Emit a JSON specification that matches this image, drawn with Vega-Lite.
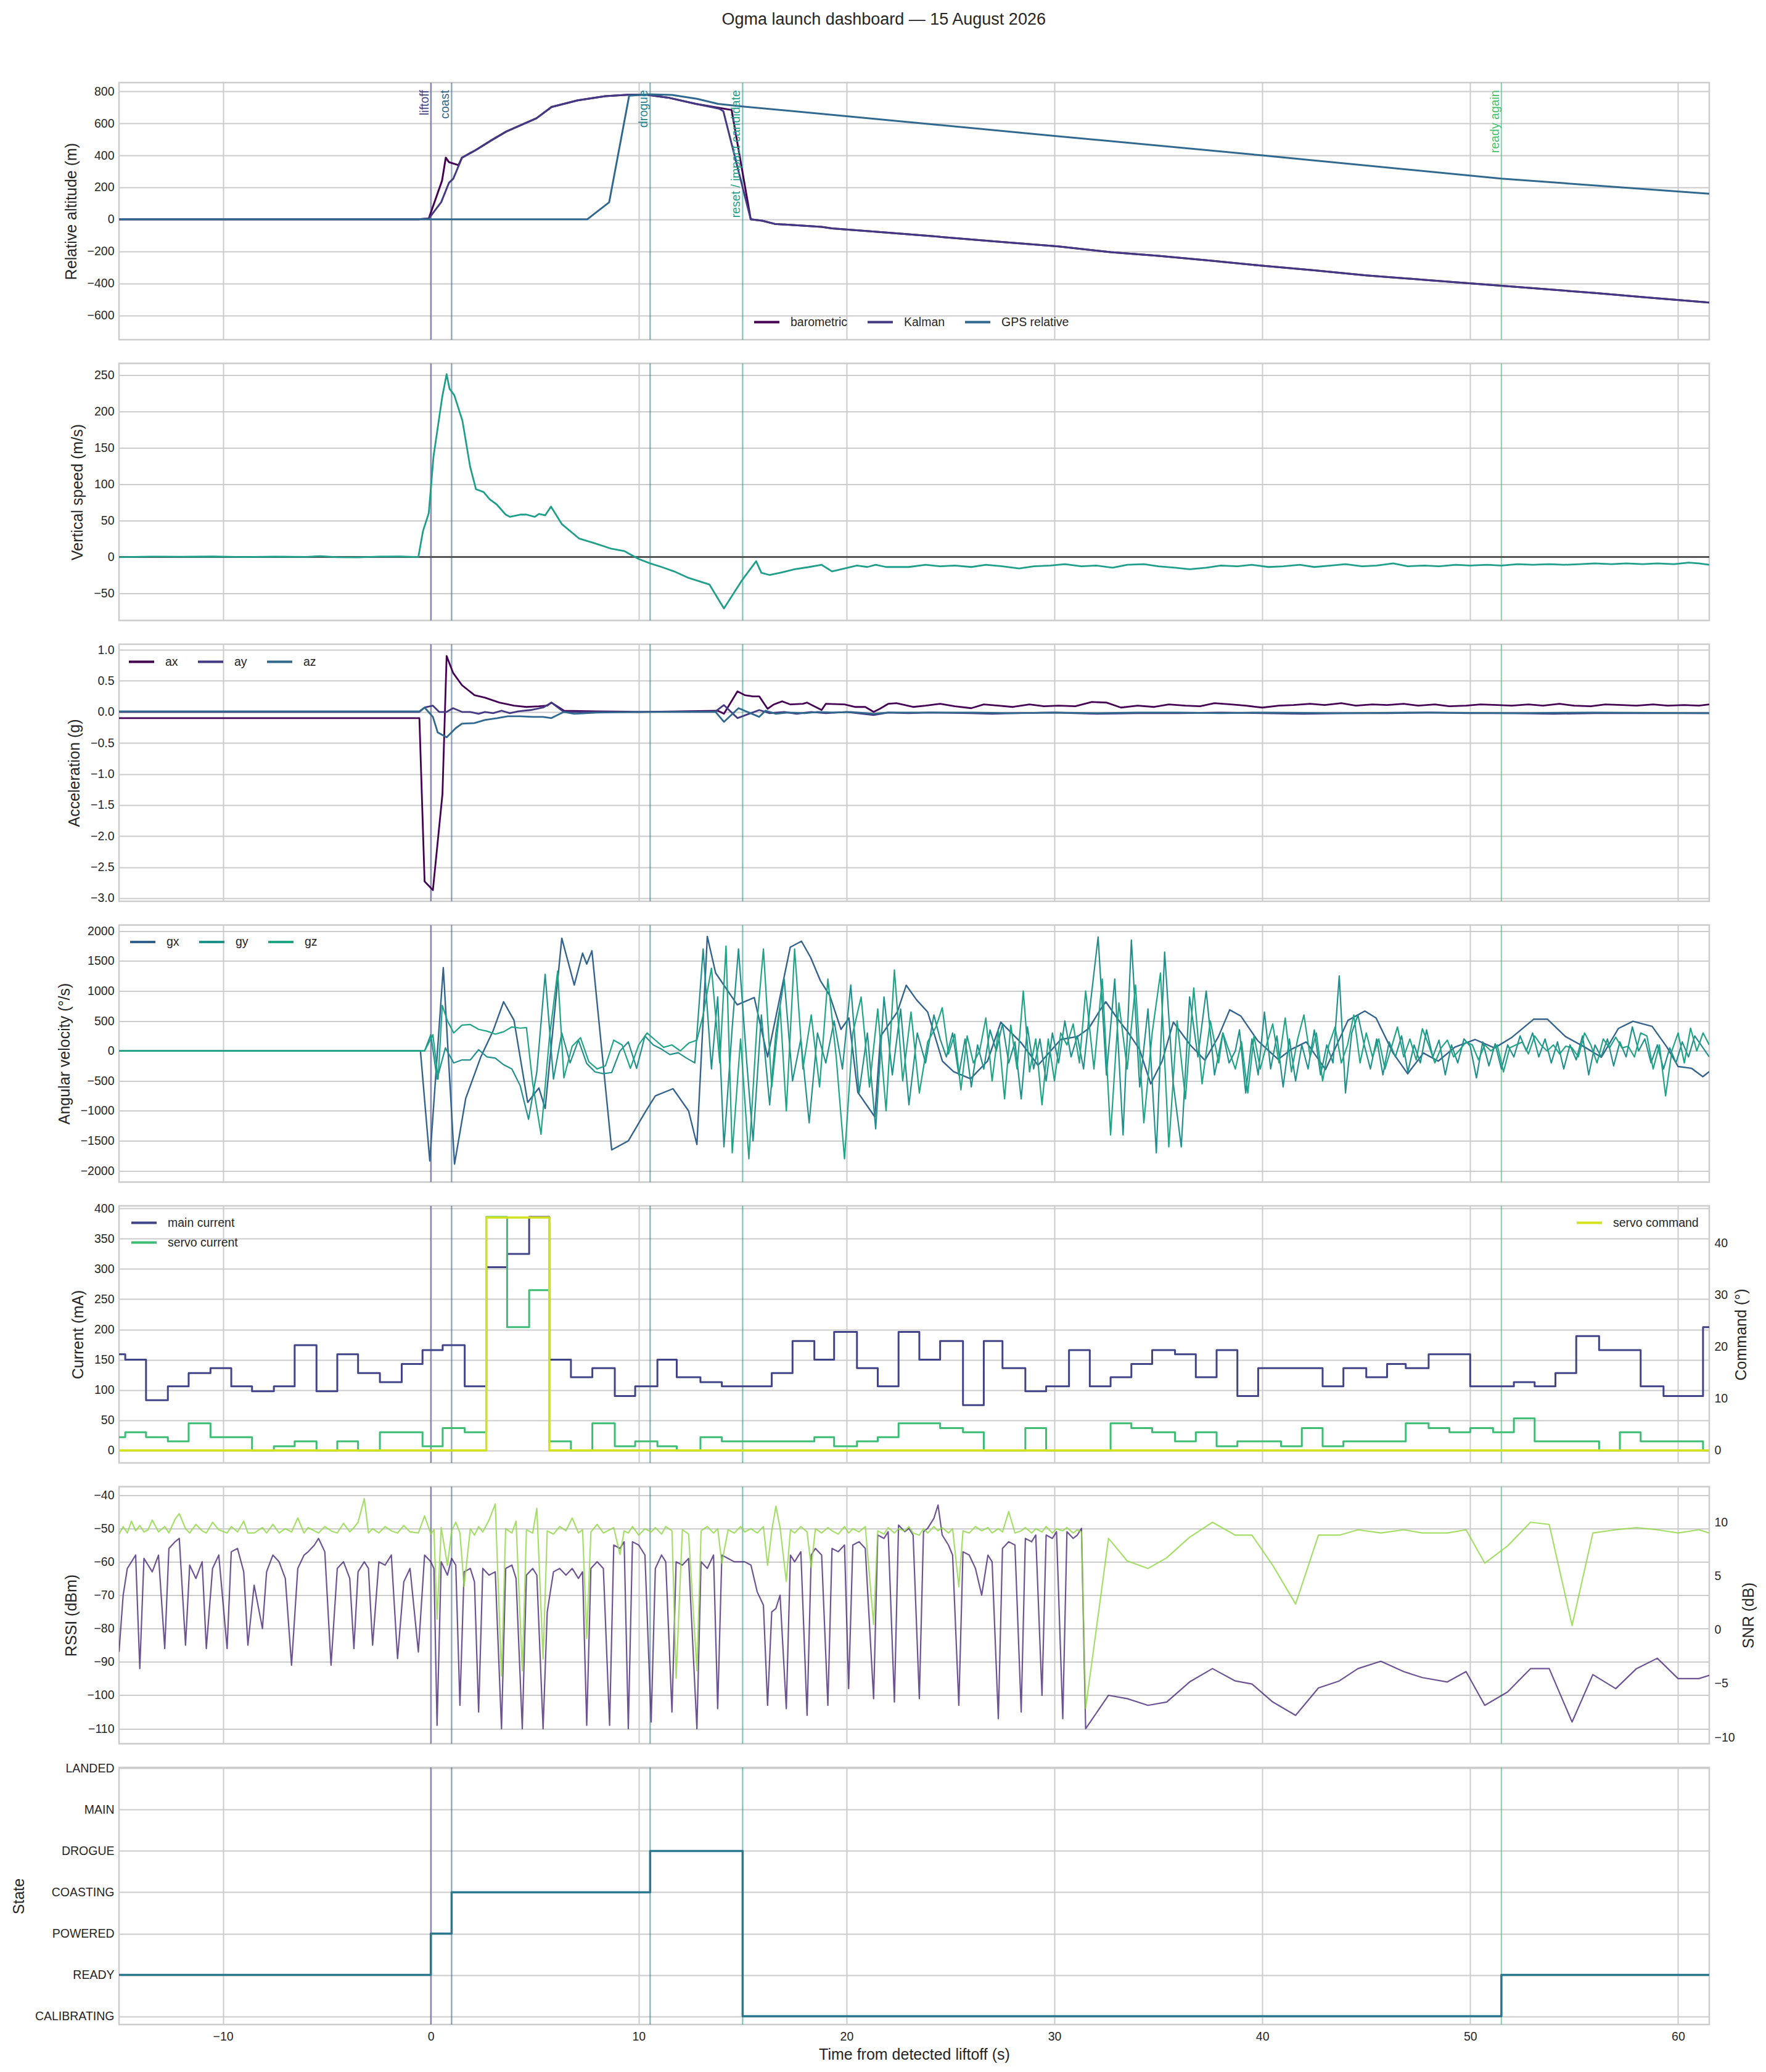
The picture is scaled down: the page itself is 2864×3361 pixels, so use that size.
{
"$schema":"https://vega.github.io/schema/vega-lite/v6.json",
"padding":{"left":17,"top":17,"right":5,"bottom":5},
"title":{"text":"Ogma launch dashboard — 15 August 2026","fontSize":27,"fontWeight":"normal","color":"#262626","anchor":"middle","offset":86,"font":"Liberation Sans"},
"spacing":38.5,
"bounds":"flush",
"resolve":{"scale":{"color":"independent","stroke":"independent","fill":"independent"}},
"datasets":{
"events":[{"t":0,"e":"liftoff"},{"t":1.0,"e":"coast"},{"t":10.55,"e":"drogue"},{"t":15.0,"e":"reset / impact candidate"},{"t":51.5,"e":"ready again"}],
"baro":[{"t":-15,"v":0},{"t":-10,"v":0.5},{"t":-5,"v":0},{"t":-0.6,"v":0},{"t":-0.1,"v":5},{"t":0.54,"v":242},{"t":0.72,"v":386},{"t":0.87,"v":358},{"t":1.33,"v":339},{"t":1.5,"v":386},{"t":2.17,"v":434},{"t":2.96,"v":498},{"t":3.63,"v":549},{"t":4.42,"v":594},{"t":5.08,"v":632},{"t":5.81,"v":703},{"t":7.07,"v":744},{"t":8.39,"v":770},{"t":9.58,"v":780},{"t":10.4,"v":779},{"t":11.42,"v":761},{"t":12.75,"v":722},{"t":13.87,"v":697},{"t":14.47,"v":684},{"t":15.39,"v":0},{"t":15.94,"v":-8},{"t":16.54,"v":-28},{"t":18.8,"v":-47},{"t":19.3,"v":-56},{"t":21.55,"v":-79},{"t":24.1,"v":-105},{"t":27.1,"v":-137},{"t":30.2,"v":-169},{"t":32.7,"v":-205},{"t":35,"v":-228},{"t":37.5,"v":-258},{"t":40,"v":-290},{"t":42.5,"v":-318},{"t":45,"v":-350},{"t":48,"v":-380},{"t":51.5,"v":-415},{"t":54,"v":-440},{"t":56,"v":-460},{"t":58.5,"v":-488},{"t":61.5,"v":-520}],
"kal":[{"t":-15,"v":0},{"t":-10,"v":0.5},{"t":-5,"v":0},{"t":-0.6,"v":0},{"t":-0.1,"v":5},{"t":0.5,"v":108},{"t":0.87,"v":228},{"t":1.08,"v":254},{"t":1.5,"v":386},{"t":2.17,"v":434},{"t":2.96,"v":498},{"t":3.63,"v":549},{"t":4.42,"v":594},{"t":5.08,"v":632},{"t":5.81,"v":703},{"t":7.07,"v":744},{"t":8.39,"v":770},{"t":9.58,"v":780},{"t":10.4,"v":779},{"t":11.42,"v":761},{"t":12.75,"v":722},{"t":13.87,"v":692},{"t":14.07,"v":677},{"t":15.39,"v":0},{"t":15.94,"v":-8},{"t":16.54,"v":-28},{"t":18.8,"v":-47},{"t":19.3,"v":-56},{"t":21.55,"v":-79},{"t":24.1,"v":-105},{"t":27.1,"v":-137},{"t":30.2,"v":-169},{"t":32.7,"v":-205},{"t":35,"v":-228},{"t":37.5,"v":-258},{"t":40,"v":-290},{"t":42.5,"v":-318},{"t":45,"v":-350},{"t":48,"v":-380},{"t":51.5,"v":-415},{"t":54,"v":-440},{"t":56,"v":-460},{"t":58.5,"v":-488},{"t":61.5,"v":-520}],
"gps":[{"t":-15,"v":0},{"t":-5,"v":0},{"t":0,"v":0},{"t":7.52,"v":0},{"t":8.58,"v":107},{"t":9.54,"v":773},{"t":10.5,"v":782},{"t":11.6,"v":778},{"t":12.8,"v":754},{"t":13.82,"v":722},{"t":15,"v":706},{"t":20,"v":645},{"t":30,"v":522},{"t":40,"v":400},{"t":51.5,"v":255},{"t":61.5,"v":160}],
"vs":[{"t":-15,"v":-0.5},{"t":-13.5,"v":0.3},{"t":-12,"v":0.1},{"t":-10.5,"v":0.4},{"t":-9,"v":-0.3},{"t":-7.5,"v":0.2},{"t":-6,"v":-0.2},{"t":-5.3,"v":1.0},{"t":-4.5,"v":-0.5},{"t":-3.5,"v":-0.8},{"t":-2.5,"v":0.3},{"t":-1.5,"v":0.5},{"t":-0.6,"v":-0.3},{"t":-0.38,"v":35},{"t":-0.1,"v":60},{"t":0.13,"v":138},{"t":0.55,"v":220},{"t":0.76,"v":251},{"t":0.9,"v":231},{"t":1.13,"v":222},{"t":1.52,"v":187},{"t":1.89,"v":124},{"t":2.17,"v":93},{"t":2.54,"v":89},{"t":2.83,"v":79},{"t":3.17,"v":72},{"t":3.6,"v":58},{"t":3.8,"v":55},{"t":4.3,"v":58},{"t":4.6,"v":58},{"t":5.0,"v":55},{"t":5.2,"v":59},{"t":5.5,"v":57},{"t":5.78,"v":69},{"t":6.3,"v":45},{"t":7.14,"v":25},{"t":7.85,"v":19},{"t":8.7,"v":11},{"t":9.3,"v":8},{"t":10.0,"v":-3},{"t":10.55,"v":-9},{"t":11.1,"v":-14},{"t":11.7,"v":-20},{"t":12.4,"v":-29},{"t":13.4,"v":-38},{"t":14.1,"v":-71},{"t":14.95,"v":-33},{"t":15.65,"v":-6},{"t":15.9,"v":-22},{"t":16.3,"v":-25},{"t":16.8,"v":-22},{"t":17.5,"v":-17},{"t":18.2,"v":-14},{"t":18.8,"v":-11},{"t":19.3,"v":-20},{"t":19.9,"v":-16},{"t":20.5,"v":-12},{"t":21.0,"v":-14},{"t":21.4,"v":-11},{"t":21.9,"v":-14},{"t":23.0,"v":-14},{"t":23.8,"v":-11},{"t":24.5,"v":-13},{"t":25.2,"v":-12},{"t":26,"v":-14},{"t":26.7,"v":-11},{"t":27.5,"v":-13},{"t":28.3,"v":-16},{"t":29,"v":-13},{"t":29.8,"v":-12},{"t":30.5,"v":-10},{"t":31.3,"v":-13},{"t":32,"v":-12},{"t":32.8,"v":-15},{"t":33.5,"v":-11},{"t":34.3,"v":-10},{"t":35,"v":-13},{"t":35.8,"v":-15},{"t":36.5,"v":-17},{"t":37.3,"v":-15},{"t":38,"v":-12},{"t":38.8,"v":-13},{"t":39.5,"v":-11},{"t":40.3,"v":-14},{"t":41,"v":-13},{"t":41.8,"v":-11},{"t":42.5,"v":-14},{"t":43.3,"v":-12},{"t":44,"v":-10},{"t":44.8,"v":-13},{"t":45.5,"v":-12},{"t":46.3,"v":-9},{"t":47,"v":-13},{"t":47.8,"v":-12},{"t":48.5,"v":-13},{"t":49.3,"v":-11},{"t":50,"v":-12},{"t":50.8,"v":-11},{"t":51.5,"v":-12},{"t":52.3,"v":-10},{"t":53,"v":-11},{"t":53.8,"v":-10},{"t":54.5,"v":-11},{"t":55.3,"v":-10},{"t":56,"v":-9},{"t":56.8,"v":-10},{"t":57.5,"v":-9},{"t":58.3,"v":-10},{"t":59,"v":-9},{"t":59.8,"v":-10},{"t":60.5,"v":-8},{"t":61,"v":-9},{"t":61.5,"v":-11}],
"ax":[{"t":-15,"v":-0.1},{"t":-0.55,"v":-0.1},{"t":-0.3,"v":-2.73},{"t":0.1,"v":-2.87},{"t":0.56,"v":-1.32},{"t":0.76,"v":0.9},{"t":1.07,"v":0.63},{"t":1.5,"v":0.43},{"t":2.1,"v":0.27},{"t":2.6,"v":0.23},{"t":3.3,"v":0.15},{"t":4.0,"v":0.1},{"t":4.6,"v":0.08},{"t":5.2,"v":0.09},{"t":5.6,"v":0.1},{"t":5.8,"v":0.15},{"t":6.4,"v":0.02},{"t":8,"v":0.01},{"t":10,"v":0.0},{"t":12,"v":0.01},{"t":13.8,"v":0.02},{"t":14.1,"v":-0.03},{"t":14.75,"v":0.33},{"t":15.1,"v":0.27},{"t":15.5,"v":0.25},{"t":15.8,"v":0.25},{"t":16.2,"v":0.05},{"t":16.5,"v":0.12},{"t":16.9,"v":0.17},{"t":17.3,"v":0.12},{"t":17.9,"v":0.13},{"t":18.1,"v":0.15},{"t":18.8,"v":0.03},{"t":19.0,"v":0.13},{"t":19.9,"v":0.12},{"t":20.4,"v":0.08},{"t":20.9,"v":0.08},{"t":21.3,"v":0.0},{"t":21.6,"v":0.05},{"t":22.0,"v":0.13},{"t":22.4,"v":0.14},{"t":23.2,"v":0.08},{"t":23.8,"v":0.1},{"t":24.5,"v":0.13},{"t":25.2,"v":0.09},{"t":26,"v":0.06},{"t":26.6,"v":0.12},{"t":27.3,"v":0.1},{"t":28,"v":0.08},{"t":28.8,"v":0.12},{"t":29.5,"v":0.09},{"t":30.2,"v":0.1},{"t":31,"v":0.09},{"t":31.8,"v":0.16},{"t":32.5,"v":0.15},{"t":33.2,"v":0.07},{"t":34,"v":0.1},{"t":34.8,"v":0.08},{"t":35.5,"v":0.12},{"t":36.3,"v":0.1},{"t":37,"v":0.09},{"t":37.7,"v":0.14},{"t":38.5,"v":0.12},{"t":39.2,"v":0.1},{"t":40,"v":0.07},{"t":40.8,"v":0.1},{"t":41.5,"v":0.11},{"t":42.3,"v":0.13},{"t":43,"v":0.11},{"t":43.8,"v":0.14},{"t":44.5,"v":0.1},{"t":45.3,"v":0.12},{"t":46,"v":0.11},{"t":46.8,"v":0.13},{"t":47.5,"v":0.1},{"t":48.3,"v":0.12},{"t":49,"v":0.09},{"t":49.8,"v":0.1},{"t":50.5,"v":0.12},{"t":51.3,"v":0.11},{"t":52,"v":0.1},{"t":52.8,"v":0.12},{"t":53.5,"v":0.1},{"t":54.3,"v":0.13},{"t":55,"v":0.1},{"t":55.8,"v":0.09},{"t":56.5,"v":0.12},{"t":57.3,"v":0.11},{"t":58,"v":0.1},{"t":58.8,"v":0.12},{"t":59.5,"v":0.1},{"t":60.3,"v":0.11},{"t":61,"v":0.1},{"t":61.5,"v":0.12}],
"ay":[{"t":-15,"v":0.0},{"t":-0.55,"v":0.0},{"t":-0.3,"v":0.07},{"t":0.1,"v":0.1},{"t":0.4,"v":0.0},{"t":0.76,"v":0.0},{"t":1.07,"v":0.06},{"t":1.5,"v":0.0},{"t":1.9,"v":0.0},{"t":2.3,"v":-0.03},{"t":2.6,"v":0.0},{"t":3.0,"v":-0.02},{"t":3.4,"v":0.02},{"t":3.8,"v":-0.02},{"t":4.2,"v":0.01},{"t":4.8,"v":0.03},{"t":5.4,"v":0.07},{"t":5.8,"v":0.15},{"t":6.4,"v":0.0},{"t":10,"v":0.0},{"t":13.7,"v":0.01},{"t":14.1,"v":0.11},{"t":14.75,"v":-0.1},{"t":15.8,"v":0.03},{"t":16.3,"v":-0.02},{"t":17,"v":0.0},{"t":17.6,"v":-0.03},{"t":18.3,"v":0.0},{"t":19,"v":-0.02},{"t":20,"v":0.0},{"t":21.3,"v":-0.05},{"t":22,"v":-0.01},{"t":23,"v":-0.02},{"t":24,"v":-0.01},{"t":26,"v":-0.02},{"t":27,"v":-0.03},{"t":28,"v":-0.02},{"t":30,"v":-0.01},{"t":32,"v":-0.03},{"t":34,"v":-0.02},{"t":36,"v":-0.02},{"t":38,"v":-0.01},{"t":40,"v":-0.02},{"t":42,"v":-0.03},{"t":44,"v":-0.02},{"t":46,"v":-0.02},{"t":48,"v":-0.01},{"t":50,"v":-0.02},{"t":52,"v":-0.02},{"t":54,"v":-0.03},{"t":56,"v":-0.02},{"t":58,"v":-0.02},{"t":60,"v":-0.02},{"t":61.5,"v":-0.02}],
"az":[{"t":-15,"v":0.01},{"t":-0.55,"v":0.01},{"t":-0.3,"v":0.07},{"t":0.1,"v":-0.08},{"t":0.33,"v":-0.33},{"t":0.76,"v":-0.41},{"t":1.2,"v":-0.26},{"t":1.5,"v":-0.19},{"t":2.1,"v":-0.18},{"t":2.6,"v":-0.13},{"t":3.2,"v":-0.1},{"t":3.7,"v":-0.07},{"t":4.3,"v":-0.07},{"t":4.9,"v":-0.08},{"t":5.4,"v":-0.08},{"t":5.8,"v":-0.1},{"t":6.4,"v":0.0},{"t":6.9,"v":-0.03},{"t":8,"v":-0.01},{"t":10,"v":0.0},{"t":13.7,"v":0.0},{"t":14.1,"v":-0.16},{"t":14.8,"v":0.06},{"t":15.8,"v":-0.08},{"t":16.1,"v":0.02},{"t":16.6,"v":-0.03},{"t":17.2,"v":-0.01},{"t":18,"v":-0.02},{"t":18.6,"v":0.0},{"t":19.4,"v":-0.01},{"t":20.2,"v":0.0},{"t":21.3,"v":-0.03},{"t":22,"v":-0.01},{"t":24,"v":-0.01},{"t":26,"v":-0.01},{"t":28,"v":-0.02},{"t":30,"v":-0.01},{"t":32,"v":-0.02},{"t":34,"v":-0.01},{"t":36,"v":-0.01},{"t":38,"v":-0.02},{"t":40,"v":-0.01},{"t":44,"v":-0.02},{"t":48,"v":-0.01},{"t":52,"v":-0.02},{"t":56,"v":-0.01},{"t":61.5,"v":-0.02}],
"gx":[{"t":-15,"v":0},{"t":-0.5,"v":0},{"t":-0.05,"v":-1836},{"t":0.6,"v":1388},{"t":1.14,"v":-1887},{"t":1.68,"v":-790},{"t":2.4,"v":-104},{"t":3.0,"v":340},{"t":3.5,"v":820},{"t":4.0,"v":513},{"t":4.66,"v":-858},{"t":5.2,"v":-618},{"t":5.5,"v":-960},{"t":6.3,"v":1880},{"t":6.9,"v":1100},{"t":7.3,"v":1630},{"t":7.5,"v":1450},{"t":7.75,"v":1670},{"t":8.7,"v":-1650},{"t":9.5,"v":-1500},{"t":10.35,"v":-1000},{"t":10.8,"v":-750},{"t":11.65,"v":-630},{"t":12.4,"v":-1000},{"t":12.8,"v":-1560},{"t":13.3,"v":1910},{"t":13.7,"v":1300},{"t":14.74,"v":770},{"t":15.56,"v":890},{"t":16.2,"v":-100},{"t":17.29,"v":1730},{"t":17.83,"v":1830},{"t":18.27,"v":1560},{"t":18.75,"v":1165},{"t":19.19,"v":925},{"t":19.73,"v":360},{"t":20.11,"v":550},{"t":20.54,"v":-690},{"t":21.36,"v":-1100},{"t":21.63,"v":240},{"t":22.44,"v":650},{"t":22.87,"v":1095},{"t":23.36,"v":855},{"t":23.9,"v":650},{"t":24.61,"v":-170},{"t":25.15,"v":-345},{"t":25.96,"v":-465},{"t":26.78,"v":-170},{"t":27.42,"v":480},{"t":28.4,"v":135},{"t":29.21,"v":-240},{"t":30.3,"v":190},{"t":31.11,"v":240},{"t":31.65,"v":375},{"t":32.2,"v":685},{"t":32.47,"v":820},{"t":33.01,"v":550},{"t":33.55,"v":305},{"t":34.09,"v":30},{"t":34.63,"v":-550},{"t":35.18,"v":-170},{"t":35.72,"v":480},{"t":36.53,"v":100},{"t":37.24,"v":-155},{"t":37.89,"v":240},{"t":38.43,"v":685},{"t":38.97,"v":580},{"t":39.78,"v":170},{"t":40.76,"v":-140},{"t":41.41,"v":30},{"t":42.11,"v":150},{"t":43.04,"v":-310},{"t":44.12,"v":510},{"t":44.93,"v":665},{"t":45.47,"v":550},{"t":46.29,"v":-35},{"t":46.99,"v":-380},{"t":47.75,"v":-35},{"t":48.46,"v":-170},{"t":49.27,"v":65},{"t":50.24,"v":190},{"t":51.17,"v":50},{"t":51.98,"v":220},{"t":53.06,"v":530},{"t":53.71,"v":530},{"t":54.58,"v":240},{"t":55.5,"v":65},{"t":56.31,"v":-105},{"t":57.13,"v":375},{"t":57.83,"v":495},{"t":58.75,"v":410},{"t":59.46,"v":65},{"t":60.0,"v":-260},{"t":60.65,"v":-290},{"t":61.19,"v":-430},{"t":61.5,"v":-345}],
"gy":[{"t":-15,"v":0},{"t":-0.3,"v":0},{"t":0,"v":270},{"t":0.3,"v":-470},{"t":0.7,"v":50},{"t":1.1,"v":-200},{"t":1.5,"v":-150},{"t":1.9,"v":-150},{"t":2.3,"v":20},{"t":2.7,"v":-100},{"t":3.1,"v":-120},{"t":3.5,"v":-230},{"t":3.9,"v":-300},{"t":4.3,"v":-580},{"t":4.7,"v":-1140},{"t":5.1,"v":-350},{"t":5.5,"v":1280},{"t":5.9,"v":-470},{"t":6.3,"v":300},{"t":6.7,"v":-200},{"t":7.1,"v":180},{"t":7.5,"v":-210},{"t":7.9,"v":-350},{"t":8.3,"v":-380},{"t":8.7,"v":-360},{"t":9.1,"v":0},{"t":9.5,"v":150},{"t":9.9,"v":-290},{"t":10.3,"v":250},{"t":10.7,"v":100},{"t":11.1,"v":30},{"t":11.5,"v":-60},{"t":11.9,"v":-30},{"t":12.3,"v":-120},{"t":12.7,"v":-200},{"t":13.1,"v":1700},{"t":13.5,"v":-300},{"t":13.8,"v":900},{"t":14.1,"v":-1600},{"t":14.5,"v":400},{"t":14.8,"v":1700},{"t":15.2,"v":-200},{"t":15.5,"v":-1500},{"t":15.9,"v":600},{"t":16.3,"v":-900},{"t":16.6,"v":300},{"t":17.0,"v":1200},{"t":17.4,"v":-500},{"t":17.8,"v":200},{"t":18.2,"v":-1200},{"t":18.6,"v":300},{"t":19.0,"v":-200},{"t":19.4,"v":500},{"t":19.8,"v":-300},{"t":20.2,"v":1100},{"t":20.6,"v":-700},{"t":21.0,"v":300},{"t":21.4,"v":-1300},{"t":21.8,"v":900},{"t":22.2,"v":-400},{"t":22.6,"v":700},{"t":23.0,"v":-900},{"t":23.4,"v":300},{"t":23.8,"v":-200},{"t":24.2,"v":600},{"t":24.5,"v":200},{"t":24.8,"v":-100},{"t":25.1,"v":300},{"t":25.4,"v":-400},{"t":25.7,"v":200},{"t":26.0,"v":-600},{"t":26.3,"v":100},{"t":26.6,"v":-300},{"t":26.9,"v":350},{"t":27.2,"v":0},{"t":27.5,"v":450},{"t":27.8,"v":-200},{"t":28.1,"v":150},{"t":28.4,"v":-800},{"t":28.7,"v":400},{"t":29.0,"v":-300},{"t":29.3,"v":200},{"t":29.6,"v":-500},{"t":29.9,"v":300},{"t":30.2,"v":-200},{"t":30.5,"v":500},{"t":30.8,"v":-100},{"t":31.1,"v":250},{"t":31.4,"v":-300},{"t":31.7,"v":700},{"t":32.1,"v":1900},{"t":32.5,"v":-400},{"t":32.9,"v":1200},{"t":33.3,"v":-1400},{"t":33.7,"v":1850},{"t":34.1,"v":-600},{"t":34.5,"v":700},{"t":34.9,"v":-1700},{"t":35.3,"v":1650},{"t":35.7,"v":-500},{"t":36.1,"v":-1600},{"t":36.5,"v":900},{"t":36.9,"v":-100},{"t":37.3,"v":1000},{"t":37.7,"v":-400},{"t":38.1,"v":300},{"t":38.4,"v":-200},{"t":38.7,"v":0},{"t":38.9,"v":350},{"t":39.2,"v":-700},{"t":39.5,"v":200},{"t":39.8,"v":-400},{"t":40.1,"v":650},{"t":40.4,"v":-300},{"t":40.7,"v":250},{"t":41.0,"v":-600},{"t":41.3,"v":200},{"t":41.6,"v":-500},{"t":41.9,"v":100},{"t":42.2,"v":-300},{"t":42.5,"v":350},{"t":42.8,"v":-400},{"t":43.1,"v":100},{"t":43.4,"v":-200},{"t":43.7,"v":1250},{"t":44.0,"v":-700},{"t":44.3,"v":300},{"t":44.6,"v":600},{"t":44.9,"v":100},{"t":45.2,"v":-300},{"t":45.5,"v":200},{"t":45.8,"v":-400},{"t":46.1,"v":150},{"t":46.4,"v":-100},{"t":46.7,"v":250},{"t":47.0,"v":-350},{"t":47.3,"v":100},{"t":47.6,"v":-200},{"t":47.9,"v":350},{"t":48.2,"v":-100},{"t":48.5,"v":180},{"t":48.8,"v":-400},{"t":49.1,"v":100},{"t":49.4,"v":-200},{"t":49.7,"v":200},{"t":50.0,"v":80},{"t":50.3,"v":-450},{"t":50.6,"v":150},{"t":50.9,"v":-250},{"t":51.2,"v":120},{"t":51.5,"v":-300},{"t":51.8,"v":100},{"t":52.1,"v":-100},{"t":52.4,"v":250},{"t":52.7,"v":0},{"t":53.0,"v":300},{"t":53.3,"v":-100},{"t":53.6,"v":200},{"t":53.9,"v":-200},{"t":54.2,"v":150},{"t":54.5,"v":-300},{"t":54.8,"v":100},{"t":55.1,"v":-150},{"t":55.4,"v":250},{"t":55.7,"v":-400},{"t":56.0,"v":100},{"t":56.3,"v":-100},{"t":56.6,"v":200},{"t":56.9,"v":-250},{"t":57.2,"v":150},{"t":57.5,"v":-100},{"t":57.8,"v":400},{"t":58.1,"v":0},{"t":58.4,"v":200},{"t":58.7,"v":-200},{"t":59.0,"v":100},{"t":59.3,"v":-300},{"t":59.6,"v":50},{"t":59.9,"v":-200},{"t":60.2,"v":150},{"t":60.5,"v":-100},{"t":60.8,"v":250},{"t":61.1,"v":100},{"t":61.5,"v":-100}],
"gz":[{"t":-15,"v":0},{"t":-0.3,"v":0},{"t":0.1,"v":270},{"t":0.35,"v":-470},{"t":0.55,"v":760},{"t":0.8,"v":500},{"t":1.1,"v":300},{"t":1.5,"v":430},{"t":1.9,"v":440},{"t":2.3,"v":360},{"t":2.7,"v":330},{"t":3.1,"v":280},{"t":3.5,"v":320},{"t":3.9,"v":400},{"t":4.3,"v":380},{"t":4.6,"v":390},{"t":4.9,"v":-540},{"t":5.3,"v":-1390},{"t":5.7,"v":200},{"t":6.1,"v":1330},{"t":6.4,"v":-450},{"t":6.8,"v":80},{"t":7.2,"v":220},{"t":7.6,"v":-180},{"t":8.0,"v":-300},{"t":8.4,"v":-250},{"t":8.8,"v":180},{"t":9.2,"v":100},{"t":9.6,"v":-290},{"t":10.0,"v":100},{"t":10.4,"v":300},{"t":10.8,"v":180},{"t":11.2,"v":60},{"t":11.6,"v":100},{"t":12.0,"v":0},{"t":12.4,"v":130},{"t":12.8,"v":180},{"t":13.1,"v":600},{"t":13.5,"v":1380},{"t":13.9,"v":-200},{"t":14.2,"v":1750},{"t":14.5,"v":-1700},{"t":14.9,"v":200},{"t":15.3,"v":-1800},{"t":15.7,"v":500},{"t":16.0,"v":1700},{"t":16.4,"v":-600},{"t":16.8,"v":750},{"t":17.1,"v":-1000},{"t":17.5,"v":1700},{"t":17.9,"v":-300},{"t":18.3,"v":600},{"t":18.7,"v":-600},{"t":19.1,"v":1200},{"t":19.5,"v":-100},{"t":19.9,"v":-1800},{"t":20.3,"v":300},{"t":20.7,"v":900},{"t":21.1,"v":-600},{"t":21.5,"v":700},{"t":21.9,"v":-1000},{"t":22.3,"v":1350},{"t":22.7,"v":-500},{"t":23.1,"v":650},{"t":23.5,"v":-700},{"t":23.9,"v":150},{"t":24.3,"v":400},{"t":24.6,"v":720},{"t":24.9,"v":-50},{"t":25.2,"v":280},{"t":25.5,"v":-650},{"t":25.8,"v":250},{"t":26.1,"v":-200},{"t":26.4,"v":0},{"t":26.7,"v":550},{"t":27.0,"v":-500},{"t":27.3,"v":350},{"t":27.6,"v":-800},{"t":27.9,"v":430},{"t":28.2,"v":-300},{"t":28.5,"v":1000},{"t":28.8,"v":-350},{"t":29.1,"v":200},{"t":29.4,"v":-900},{"t":29.7,"v":200},{"t":30.0,"v":-500},{"t":30.3,"v":300},{"t":30.6,"v":100},{"t":30.9,"v":450},{"t":31.2,"v":-200},{"t":31.5,"v":1000},{"t":31.9,"v":-300},{"t":32.3,"v":1200},{"t":32.7,"v":-1400},{"t":33.1,"v":800},{"t":33.5,"v":-300},{"t":33.9,"v":1100},{"t":34.3,"v":-1200},{"t":34.7,"v":300},{"t":35.1,"v":1300},{"t":35.5,"v":-1600},{"t":35.9,"v":500},{"t":36.3,"v":-800},{"t":36.7,"v":1050},{"t":37.1,"v":-550},{"t":37.5,"v":500},{"t":37.9,"v":-200},{"t":38.1,"v":300},{"t":38.4,"v":0},{"t":38.7,"v":-300},{"t":39.0,"v":150},{"t":39.3,"v":-700},{"t":39.6,"v":250},{"t":39.9,"v":-300},{"t":40.2,"v":100},{"t":40.5,"v":450},{"t":40.8,"v":-200},{"t":41.1,"v":550},{"t":41.4,"v":-350},{"t":41.7,"v":200},{"t":42.0,"v":600},{"t":42.3,"v":-100},{"t":42.6,"v":300},{"t":42.9,"v":-500},{"t":43.2,"v":100},{"t":43.5,"v":400},{"t":43.8,"v":-200},{"t":44.1,"v":100},{"t":44.4,"v":600},{"t":44.7,"v":-200},{"t":45.0,"v":300},{"t":45.3,"v":-100},{"t":45.6,"v":200},{"t":45.9,"v":-300},{"t":46.2,"v":50},{"t":46.5,"v":400},{"t":46.8,"v":-100},{"t":47.1,"v":200},{"t":47.4,"v":-150},{"t":47.7,"v":370},{"t":48.0,"v":100},{"t":48.3,"v":-200},{"t":48.6,"v":50},{"t":48.9,"v":180},{"t":49.2,"v":-100},{"t":49.5,"v":20},{"t":49.8,"v":150},{"t":50.1,"v":100},{"t":50.4,"v":-150},{"t":50.7,"v":100},{"t":51.0,"v":0},{"t":51.3,"v":100},{"t":51.6,"v":-350},{"t":51.9,"v":50},{"t":52.2,"v":100},{"t":52.5,"v":150},{"t":52.8,"v":-50},{"t":53.1,"v":250},{"t":53.4,"v":100},{"t":53.7,"v":0},{"t":54.0,"v":100},{"t":54.3,"v":-50},{"t":54.6,"v":80},{"t":54.9,"v":50},{"t":55.2,"v":-100},{"t":55.5,"v":300},{"t":55.8,"v":100},{"t":56.1,"v":-200},{"t":56.4,"v":200},{"t":56.7,"v":50},{"t":57.0,"v":230},{"t":57.3,"v":50},{"t":57.6,"v":80},{"t":57.9,"v":-100},{"t":58.2,"v":300},{"t":58.5,"v":250},{"t":58.8,"v":-300},{"t":59.1,"v":100},{"t":59.4,"v":-750},{"t":59.7,"v":0},{"t":60.0,"v":300},{"t":60.3,"v":-200},{"t":60.6,"v":380},{"t":60.9,"v":0},{"t":61.2,"v":300},{"t":61.5,"v":100}],
"cur":[{"t":-15.0,"main current":159,"servo current":22},{"t":-14.7,"main current":150,"servo current":30},{"t":-13.7,"main current":83,"servo current":22},{"t":-12.65,"main current":106,"servo current":15},{"t":-11.65,"main current":128,"servo current":45},{"t":-10.6,"main current":136,"servo current":22},{"t":-9.6,"main current":106,"servo current":22},{"t":-8.6,"main current":98,"servo current":0},{"t":-7.55,"main current":106,"servo current":7},{"t":-6.55,"main current":174,"servo current":15},{"t":-5.5,"main current":98,"servo current":0},{"t":-4.5,"main current":159,"servo current":15},{"t":-3.5,"main current":128,"servo current":0},{"t":-2.45,"main current":113,"servo current":30},{"t":-1.4,"main current":143,"servo current":30},{"t":-0.4,"main current":166,"servo current":7},{"t":0.57,"main current":174,"servo current":37},{"t":1.63,"main current":106,"servo current":30},{"t":2.67,"main current":303,"servo current":386},{"t":3.67,"main current":325,"servo current":204},{"t":4.73,"main current":386,"servo current":265},{"t":5.7,"main current":150,"servo current":15},{"t":6.74,"main current":121,"servo current":0},{"t":7.77,"main current":136,"servo current":45},{"t":8.85,"main current":90,"servo current":7},{"t":9.83,"main current":106,"servo current":15},{"t":10.9,"main current":150,"servo current":7},{"t":11.83,"main current":121,"servo current":0},{"t":12.97,"main current":113,"servo current":22},{"t":14.0,"main current":106,"servo current":15},{"t":16.4,"main current":128,"servo current":15},{"t":17.4,"main current":181,"servo current":15},{"t":18.45,"main current":150,"servo current":22},{"t":19.4,"main current":196,"servo current":7},{"t":20.5,"main current":136,"servo current":15},{"t":21.5,"main current":106,"servo current":22},{"t":22.5,"main current":196,"servo current":45},{"t":23.5,"main current":150,"servo current":45},{"t":24.5,"main current":181,"servo current":37},{"t":25.6,"main current":75,"servo current":30},{"t":26.6,"main current":181,"servo current":0},{"t":27.5,"main current":136,"servo current":0},{"t":28.6,"main current":98,"servo current":37},{"t":29.6,"main current":106,"servo current":0},{"t":30.7,"main current":166,"servo current":0},{"t":31.7,"main current":106,"servo current":0},{"t":32.7,"main current":121,"servo current":45},{"t":33.7,"main current":143,"servo current":37},{"t":34.7,"main current":166,"servo current":30},{"t":35.8,"main current":159,"servo current":15},{"t":36.8,"main current":121,"servo current":30},{"t":37.8,"main current":166,"servo current":7},{"t":38.8,"main current":90,"servo current":15},{"t":39.8,"main current":136,"servo current":15},{"t":40.9,"main current":136,"servo current":7},{"t":41.9,"main current":136,"servo current":37},{"t":42.9,"main current":106,"servo current":7},{"t":43.9,"main current":136,"servo current":15},{"t":45.0,"main current":121,"servo current":15},{"t":46.0,"main current":143,"servo current":15},{"t":46.9,"main current":136,"servo current":45},{"t":48.0,"main current":159,"servo current":37},{"t":49.0,"main current":159,"servo current":30},{"t":50.0,"main current":106,"servo current":37},{"t":51.1,"main current":106,"servo current":30},{"t":52.1,"main current":113,"servo current":53},{"t":53.1,"main current":106,"servo current":15},{"t":54.1,"main current":128,"servo current":15},{"t":55.1,"main current":189,"servo current":15},{"t":56.2,"main current":166,"servo current":0},{"t":57.2,"main current":166,"servo current":30},{"t":58.2,"main current":106,"servo current":15},{"t":59.3,"main current":90,"servo current":15},{"t":61.2,"main current":204,"servo current":0},{"t":61.5,"main current":204,"servo current":0}],
"cmd":[{"t":-15,"v":0},{"t":2.67,"v":45},{"t":5.7,"v":0},{"t":61.5,"v":0}],
"radio":[{"t":-15.0,"rssi":-87,"snr":8.9},{"t":-14.8,"rssi":-70,"snr":9.6},{"t":-14.6,"rssi":-62,"snr":9.0},{"t":-14.4,"rssi":-60,"snr":10.1},{"t":-14.2,"rssi":-58,"snr":9.2},{"t":-14.0,"rssi":-92,"snr":9.7},{"t":-13.8,"rssi":-59,"snr":9.1},{"t":-13.6,"rssi":-61,"snr":9.3},{"t":-13.4,"rssi":-63,"snr":10.2},{"t":-13.1,"rssi":-58,"snr":9.1},{"t":-12.8,"rssi":-86,"snr":9.6},{"t":-12.6,"rssi":-56,"snr":9.0},{"t":-12.3,"rssi":-54,"snr":10.3},{"t":-12.1,"rssi":-53,"snr":10.8},{"t":-11.8,"rssi":-85,"snr":9.4},{"t":-11.6,"rssi":-61,"snr":9.0},{"t":-11.3,"rssi":-65,"snr":9.8},{"t":-11.0,"rssi":-60,"snr":9.2},{"t":-10.8,"rssi":-86,"snr":9.0},{"t":-10.5,"rssi":-62,"snr":10.0},{"t":-10.2,"rssi":-58,"snr":9.3},{"t":-9.8,"rssi":-86,"snr":9.0},{"t":-9.6,"rssi":-57,"snr":9.6},{"t":-9.3,"rssi":-56,"snr":9.1},{"t":-9.0,"rssi":-63,"snr":10.1},{"t":-8.8,"rssi":-85,"snr":9.0},{"t":-8.5,"rssi":-67,"snr":9.0},{"t":-8.1,"rssi":-80,"snr":9.5},{"t":-7.9,"rssi":-63,"snr":9.0},{"t":-7.6,"rssi":-58,"snr":9.8},{"t":-7.3,"rssi":-60,"snr":9.0},{"t":-7.0,"rssi":-65,"snr":9.4},{"t":-6.7,"rssi":-91,"snr":9.1},{"t":-6.4,"rssi":-62,"snr":10.4},{"t":-6.1,"rssi":-58,"snr":9.0},{"t":-5.9,"rssi":-57,"snr":9.5},{"t":-5.6,"rssi":-55,"snr":9.2},{"t":-5.4,"rssi":-53,"snr":9.0},{"t":-5.1,"rssi":-57,"snr":9.6},{"t":-4.8,"rssi":-91,"snr":9.2},{"t":-4.5,"rssi":-62,"snr":9.0},{"t":-4.2,"rssi":-60,"snr":9.9},{"t":-3.9,"rssi":-65,"snr":9.1},{"t":-3.7,"rssi":-86,"snr":9.5},{"t":-3.5,"rssi":-63,"snr":10.0},{"t":-3.2,"rssi":-60,"snr":12.2},{"t":-3.0,"rssi":-62,"snr":9.0},{"t":-2.8,"rssi":-85,"snr":9.4},{"t":-2.5,"rssi":-60,"snr":9.0},{"t":-2.2,"rssi":-61,"snr":9.6},{"t":-1.9,"rssi":-58,"snr":9.2},{"t":-1.6,"rssi":-89,"snr":9.0},{"t":-1.3,"rssi":-66,"snr":9.7},{"t":-1.0,"rssi":-62,"snr":9.1},{"t":-0.6,"rssi":-87,"snr":9.0},{"t":-0.3,"rssi":-58,"snr":10.6},{"t":0.0,"rssi":-60,"snr":8.9},{"t":0.15,"rssi":-62,"snr":9.3},{"t":0.3,"rssi":-109,"snr":1.0},{"t":0.5,"rssi":-60,"snr":9.5},{"t":0.8,"rssi":-64,"snr":6.0},{"t":1.0,"rssi":-59,"snr":9.2},{"t":1.2,"rssi":-61,"snr":10.0},{"t":1.4,"rssi":-103,"snr":9.0},{"t":1.6,"rssi":-63,"snr":4.0},{"t":1.9,"rssi":-62,"snr":9.4},{"t":2.1,"rssi":-66,"snr":8.8},{"t":2.3,"rssi":-105,"snr":9.6},{"t":2.5,"rssi":-62,"snr":9.1},{"t":2.8,"rssi":-64,"snr":10.2},{"t":3.1,"rssi":-63,"snr":11.7},{"t":3.4,"rssi":-110,"snr":-4.3},{"t":3.6,"rssi":-62,"snr":9.4},{"t":3.9,"rssi":-61,"snr":9.0},{"t":4.1,"rssi":-65,"snr":10.1},{"t":4.4,"rssi":-110,"snr":-3.8},{"t":4.6,"rssi":-64,"snr":9.3},{"t":4.9,"rssi":-62,"snr":9.0},{"t":5.1,"rssi":-64,"snr":11.3},{"t":5.4,"rssi":-110,"snr":-2.7},{"t":5.6,"rssi":-75,"snr":9.2},{"t":5.9,"rssi":-63,"snr":8.9},{"t":6.2,"rssi":-62,"snr":9.6},{"t":6.5,"rssi":-64,"snr":9.2},{"t":6.8,"rssi":-62,"snr":10.4},{"t":7.1,"rssi":-65,"snr":9.0},{"t":7.3,"rssi":-63,"snr":9.3},{"t":7.5,"rssi":-109,"snr":-0.8},{"t":7.7,"rssi":-62,"snr":9.1},{"t":8.0,"rssi":-60,"snr":9.8},{"t":8.3,"rssi":-62,"snr":9.0},{"t":8.6,"rssi":-109,"snr":9.3},{"t":8.8,"rssi":-55,"snr":9.5},{"t":9.1,"rssi":-56,"snr":7.0},{"t":9.3,"rssi":-54,"snr":9.2},{"t":9.5,"rssi":-110,"snr":9.0},{"t":9.7,"rssi":-54,"snr":9.6},{"t":10.0,"rssi":-55,"snr":8.8},{"t":10.3,"rssi":-58,"snr":9.4},{"t":10.6,"rssi":-108,"snr":9.1},{"t":10.8,"rssi":-62,"snr":9.5},{"t":11.1,"rssi":-58,"snr":8.9},{"t":11.3,"rssi":-60,"snr":9.6},{"t":11.6,"rssi":-105,"snr":9.2},{"t":11.8,"rssi":-60,"snr":-4.5},{"t":12.1,"rssi":-61,"snr":9.3},{"t":12.4,"rssi":-59,"snr":8.9},{"t":12.8,"rssi":-110,"snr":-3.8},{"t":13.0,"rssi":-60,"snr":9.2},{"t":13.3,"rssi":-62,"snr":9.6},{"t":13.6,"rssi":-58,"snr":9.0},{"t":13.8,"rssi":-104,"snr":9.4},{"t":14.0,"rssi":-58,"snr":6.2},{"t":14.3,"rssi":-59,"snr":9.3},{"t":14.6,"rssi":-60,"snr":9.0},{"t":14.9,"rssi":-60,"snr":9.6},{"t":15.1,"rssi":-60,"snr":9.1},{"t":15.4,"rssi":-61,"snr":9.4},{"t":15.7,"rssi":-69,"snr":9.0},{"t":16.0,"rssi":-73,"snr":9.6},{"t":16.2,"rssi":-103,"snr":6.0},{"t":16.4,"rssi":-75,"snr":9.2},{"t":16.6,"rssi":-74,"snr":11.5},{"t":16.8,"rssi":-70,"snr":9.5},{"t":17.1,"rssi":-104,"snr":4.5},{"t":17.3,"rssi":-58,"snr":9.3},{"t":17.5,"rssi":-60,"snr":9.0},{"t":17.8,"rssi":-57,"snr":9.6},{"t":18.1,"rssi":-106,"snr":9.1},{"t":18.3,"rssi":-58,"snr":5.8},{"t":18.5,"rssi":-56,"snr":9.4},{"t":18.8,"rssi":-58,"snr":9.0},{"t":19.1,"rssi":-103,"snr":9.5},{"t":19.3,"rssi":-56,"snr":9.2},{"t":19.6,"rssi":-57,"snr":8.9},{"t":19.9,"rssi":-55,"snr":9.6},{"t":20.1,"rssi":-98,"snr":9.0},{"t":20.3,"rssi":-55,"snr":9.4},{"t":20.6,"rssi":-54,"snr":9.1},{"t":20.9,"rssi":-56,"snr":9.6},{"t":21.3,"rssi":-101,"snr":0.5},{"t":21.5,"rssi":-52,"snr":9.2},{"t":21.8,"rssi":-53,"snr":8.9},{"t":22.0,"rssi":-51,"snr":9.5},{"t":22.3,"rssi":-102,"snr":9.0},{"t":22.5,"rssi":-49,"snr":9.4},{"t":22.8,"rssi":-51,"snr":9.2},{"t":23.0,"rssi":-50,"snr":9.6},{"t":23.2,"rssi":-52,"snr":9.0},{"t":23.5,"rssi":-101,"snr":8.8},{"t":23.7,"rssi":-51,"snr":9.4},{"t":23.9,"rssi":-50,"snr":9.0},{"t":24.2,"rssi":-47,"snr":9.6},{"t":24.4,"rssi":-43,"snr":9.2},{"t":24.6,"rssi":-52,"snr":9.5},{"t":24.9,"rssi":-55,"snr":9.0},{"t":25.1,"rssi":-58,"snr":9.4},{"t":25.4,"rssi":-103,"snr":4.0},{"t":25.6,"rssi":-57,"snr":9.2},{"t":25.9,"rssi":-58,"snr":9.0},{"t":26.2,"rssi":-62,"snr":9.6},{"t":26.5,"rssi":-70,"snr":9.2},{"t":26.8,"rssi":-58,"snr":9.5},{"t":27.0,"rssi":-60,"snr":9.0},{"t":27.3,"rssi":-107,"snr":9.4},{"t":27.5,"rssi":-56,"snr":9.1},{"t":27.8,"rssi":-54,"snr":11.0},{"t":28.1,"rssi":-55,"snr":9.0},{"t":28.4,"rssi":-105,"snr":9.2},{"t":28.6,"rssi":-53,"snr":9.5},{"t":28.9,"rssi":-54,"snr":9.0},{"t":29.1,"rssi":-52,"snr":9.4},{"t":29.4,"rssi":-100,"snr":9.1},{"t":29.6,"rssi":-52,"snr":9.6},{"t":29.9,"rssi":-53,"snr":9.0},{"t":30.1,"rssi":-51,"snr":9.4},{"t":30.4,"rssi":-107,"snr":9.2},{"t":30.6,"rssi":-51,"snr":9.5},{"t":30.9,"rssi":-53,"snr":9.0},{"t":31.1,"rssi":-52,"snr":9.3},{"t":31.3,"rssi":-50,"snr":9.1},{"t":31.5,"rssi":-110,"snr":-7.3},{"t":32.6,"rssi":-100,"snr":8.5},{"t":33.5,"rssi":-101,"snr":6.4},{"t":34.5,"rssi":-103,"snr":5.7},{"t":35.4,"rssi":-102,"snr":6.7},{"t":36.5,"rssi":-96,"snr":8.6},{"t":37.6,"rssi":-92,"snr":10.0},{"t":38.7,"rssi":-95.7,"snr":8.8},{"t":39.5,"rssi":-96.6,"snr":8.8},{"t":40.5,"rssi":-102,"snr":6.0},{"t":41.6,"rssi":-106,"snr":2.4},{"t":42.7,"rssi":-97.8,"snr":8.8},{"t":43.7,"rssi":-95.7,"snr":8.8},{"t":44.6,"rssi":-92,"snr":9.3},{"t":45.7,"rssi":-89.8,"snr":9.0},{"t":46.8,"rssi":-92.9,"snr":9.3},{"t":47.7,"rssi":-94.7,"snr":9.0},{"t":48.9,"rssi":-96,"snr":9.0},{"t":49.8,"rssi":-92.9,"snr":9.3},{"t":50.7,"rssi":-103,"snr":6.2},{"t":51.8,"rssi":-99,"snr":7.8},{"t":52.9,"rssi":-92,"snr":10.0},{"t":53.8,"rssi":-92,"snr":9.8},{"t":54.9,"rssi":-108,"snr":0.4},{"t":55.9,"rssi":-93.8,"snr":9.0},{"t":57.0,"rssi":-98,"snr":9.3},{"t":58.0,"rssi":-92,"snr":9.5},{"t":59.0,"rssi":-88.9,"snr":9.3},{"t":60.0,"rssi":-95,"snr":9.0},{"t":61.0,"rssi":-95,"snr":9.3},{"t":61.5,"rssi":-94,"snr":9.0}],
"state":[{"t":-15,"v":1},{"t":0,"v":2},{"t":1.0,"v":3},{"t":10.55,"v":4},{"t":15.0,"v":0},{"t":51.5,"v":1},{"t":61.5,"v":1}]
},
"vconcat":[
{"width":2579,"height":417,"layer":[
 {"data":{"name":"events"},"mark":{"type":"rule","strokeWidth":2.2,"opacity":0.6},"encoding":{"x":{"field":"t","type":"quantitative","scale":{"domain":[-15,61.5],"nice":false,"zero":false},"axis":{"values":[-10,0,10,20,30,40,50,60],"labels":false,"title":null}},"stroke":{"field":"e","type":"nominal","scale":{"domain":["liftoff","coast","drogue","reset / impact candidate","ready again"],"range":["#414487","#33638d","#26828e","#1fa088","#44bf70"]},"legend":null}}},
 {"data":{"name":"baro"},"mark":{"type":"line","strokeWidth":3,"clip":true},"encoding":{"x":{"field":"t","type":"quantitative"},"y":{"field":"v","type":"quantitative","title":"Relative altitude (m)","scale":{"domain":[-752,855],"nice":false,"zero":false},"axis":{"values":[-600,-400,-200,0,200,400,600,800],"format":"d"}},"color":{"datum":"barometric","type":"nominal","scale":{"domain":["barometric","Kalman","GPS relative"],"range":["#440154","#443983","#31688e"]},"legend":{"orient":"none","legendX":1028,"legendY":366,"direction":"horizontal","title":null,"columnPadding":30,"labelOffset":16}}}},
 {"data":{"name":"kal"},"mark":{"type":"line","strokeWidth":3,"clip":true},"encoding":{"x":{"field":"t","type":"quantitative"},"y":{"field":"v","type":"quantitative","title":"Relative altitude (m)"},"color":{"datum":"Kalman","type":"nominal"}}},
 {"data":{"name":"gps"},"mark":{"type":"line","strokeWidth":3,"clip":true},"encoding":{"x":{"field":"t","type":"quantitative"},"y":{"field":"v","type":"quantitative","title":"Relative altitude (m)"},"color":{"datum":"GPS relative","type":"nominal"}}},
 {"data":{"name":"events"},"mark":{"type":"text","angle":270,"align":"right","baseline":"bottom","fontSize":19.5},"encoding":{"x":{"field":"t","type":"quantitative"},"y":{"datum":808,"type":"quantitative","title":"Relative altitude (m)"},"text":{"field":"e"},"fill":{"field":"e","type":"nominal","scale":{"domain":["liftoff","coast","drogue","reset / impact candidate","ready again"],"range":["#414487","#33638d","#26828e","#1fa088","#44bf70"]},"legend":null}}}
]},
{"width":2579,"height":417,"layer":[
 {"data":{"name":"events"},"mark":{"type":"rule","strokeWidth":2.2,"opacity":0.6},"encoding":{"x":{"field":"t","type":"quantitative","scale":{"domain":[-15,61.5],"nice":false,"zero":false},"axis":{"values":[-10,0,10,20,30,40,50,60],"labels":false,"title":null}},"stroke":{"field":"e","type":"nominal","scale":{"domain":["liftoff","coast","drogue","reset / impact candidate","ready again"],"range":["#414487","#33638d","#26828e","#1fa088","#44bf70"]},"legend":null}}},
 {"data":{"name":"vs"},"mark":{"type":"rule","color":"#555555","strokeWidth":2.5},"encoding":{"y":{"datum":0,"type":"quantitative","title":"Vertical speed (m/s)"}}},
 {"data":{"name":"vs"},"mark":{"type":"line","strokeWidth":2.8,"color":"#1f9e89","clip":true},"encoding":{"x":{"field":"t","type":"quantitative"},"y":{"field":"v","type":"quantitative","title":"Vertical speed (m/s)","scale":{"domain":[-87.5,265.8],"nice":false,"zero":false},"axis":{"values":[-50,0,50,100,150,200,250],"format":"d"}}}}
]},
{"width":2579,"height":417,"layer":[
 {"data":{"name":"events"},"mark":{"type":"rule","strokeWidth":2.2,"opacity":0.6},"encoding":{"x":{"field":"t","type":"quantitative","scale":{"domain":[-15,61.5],"nice":false,"zero":false},"axis":{"values":[-10,0,10,20,30,40,50,60],"labels":false,"title":null}},"stroke":{"field":"e","type":"nominal","scale":{"domain":["liftoff","coast","drogue","reset / impact candidate","ready again"],"range":["#414487","#33638d","#26828e","#1fa088","#44bf70"]},"legend":null}}},
 {"data":{"name":"ax"},"mark":{"type":"line","strokeWidth":2.8,"clip":true},"encoding":{"x":{"field":"t","type":"quantitative"},"y":{"field":"v","type":"quantitative","title":"Acceleration (g)","scale":{"domain":[-3.05,1.09],"nice":false,"zero":false},"axis":{"values":[-3,-2.5,-2,-1.5,-1,-0.5,0,0.5,1],"format":".1f"}},"color":{"datum":"ax","type":"nominal","scale":{"domain":["ax","ay","az"],"range":["#440154","#443983","#31688e"]},"legend":{"orient":"none","legendX":14,"legendY":6,"direction":"horizontal","title":null,"columnPadding":30,"labelOffset":16}}}},
 {"data":{"name":"ay"},"mark":{"type":"line","strokeWidth":2.8,"clip":true},"encoding":{"x":{"field":"t","type":"quantitative"},"y":{"field":"v","type":"quantitative","title":"Acceleration (g)"},"color":{"datum":"ay","type":"nominal"}}},
 {"data":{"name":"az"},"mark":{"type":"line","strokeWidth":2.8,"clip":true},"encoding":{"x":{"field":"t","type":"quantitative"},"y":{"field":"v","type":"quantitative","title":"Acceleration (g)"},"color":{"datum":"az","type":"nominal"}}}
]},
{"width":2579,"height":417,"layer":[
 {"data":{"name":"events"},"mark":{"type":"rule","strokeWidth":2.2,"opacity":0.6},"encoding":{"x":{"field":"t","type":"quantitative","scale":{"domain":[-15,61.5],"nice":false,"zero":false},"axis":{"values":[-10,0,10,20,30,40,50,60],"labels":false,"title":null}},"stroke":{"field":"e","type":"nominal","scale":{"domain":["liftoff","coast","drogue","reset / impact candidate","ready again"],"range":["#414487","#33638d","#26828e","#1fa088","#44bf70"]},"legend":null}}},
 {"data":{"name":"gx"},"mark":{"type":"line","strokeWidth":2.4,"clip":true},"encoding":{"x":{"field":"t","type":"quantitative"},"y":{"field":"v","type":"quantitative","title":"Angular velocity (°/s)","scale":{"domain":[-2188,2100],"nice":false,"zero":false},"axis":{"values":[-2000,-1500,-1000,-500,0,500,1000,1500,2000],"format":"d"}},"color":{"datum":"gx","type":"nominal","scale":{"domain":["gx","gy","gz"],"range":["#33638d","#21908d","#20a486"]},"legend":{"orient":"none","legendX":16,"legendY":5,"direction":"horizontal","title":null,"columnPadding":30,"labelOffset":16}}}},
 {"data":{"name":"gy"},"mark":{"type":"line","strokeWidth":2.2,"clip":true},"encoding":{"x":{"field":"t","type":"quantitative"},"y":{"field":"v","type":"quantitative","title":"Angular velocity (°/s)"},"color":{"datum":"gy","type":"nominal"}}},
 {"data":{"name":"gz"},"mark":{"type":"line","strokeWidth":2.2,"clip":true},"encoding":{"x":{"field":"t","type":"quantitative"},"y":{"field":"v","type":"quantitative","title":"Angular velocity (°/s)"},"color":{"datum":"gz","type":"nominal"}}}
]},
{"width":2579,"height":417,"layer":[
 {"data":{"name":"events"},"mark":{"type":"rule","strokeWidth":2.2,"opacity":0.6},"encoding":{"x":{"field":"t","type":"quantitative","scale":{"domain":[-15,61.5],"nice":false,"zero":false},"axis":{"values":[-10,0,10,20,30,40,50,60],"labels":false,"title":null}},"stroke":{"field":"e","type":"nominal","scale":{"domain":["liftoff","coast","drogue","reset / impact candidate","ready again"],"range":["#414487","#33638d","#26828e","#1fa088","#44bf70"]},"legend":null}}},
 {"data":{"name":"cur"},"transform":[{"fold":["main current","servo current"],"as":["s","v"]}],"mark":{"type":"line","interpolate":"step-after","strokeWidth":3,"clip":true},"encoding":{"x":{"field":"t","type":"quantitative"},"y":{"field":"v","type":"quantitative","title":"Current (mA)","scale":{"domain":[-20.6,404.4],"nice":false,"zero":false},"axis":{"values":[0,50,100,150,200,250,300,350,400],"format":"d"}},"color":{"field":"s","type":"nominal","scale":{"domain":["main current","servo current"],"range":["#414487","#3dbc74"]},"legend":{"orient":"none","legendX":18,"legendY":5,"direction":"vertical","title":null,"rowPadding":-12,"labelOffset":16}}}},
 {"data":{"name":"cmd"},"mark":{"type":"line","interpolate":"step-after","strokeWidth":3.5,"clip":true},"encoding":{"x":{"field":"t","type":"quantitative"},"y":{"field":"v","type":"quantitative","title":"Command (°)","scale":{"domain":[-2.41,47.25],"nice":false,"zero":false},"axis":{"orient":"right","values":[0,10,20,30,40],"format":"d","titleAngle":270,"titleBaseline":"top","titlePadding":10}},"color":{"datum":"servo command","type":"nominal","scale":{"domain":["servo command"],"range":["#d2e21b"]},"legend":{"orient":"none","legendX":2362,"legendY":5,"title":null,"labelOffset":16}}}}
],"resolve":{"scale":{"y":"independent","color":"independent"},"legend":{"color":"independent"}}},
{"width":2579,"height":417,"layer":[
 {"data":{"name":"events"},"mark":{"type":"rule","strokeWidth":2.2,"opacity":0.6},"encoding":{"x":{"field":"t","type":"quantitative","scale":{"domain":[-15,61.5],"nice":false,"zero":false},"axis":{"values":[-10,0,10,20,30,40,50,60],"labels":false,"title":null}},"stroke":{"field":"e","type":"nominal","scale":{"domain":["liftoff","coast","drogue","reset / impact candidate","ready again"],"range":["#414487","#33638d","#26828e","#1fa088","#44bf70"]},"legend":null}}},
 {"data":{"name":"radio"},"mark":{"type":"line","strokeWidth":2.2,"color":"#482878","opacity":0.8,"clip":true},"encoding":{"x":{"field":"t","type":"quantitative"},"y":{"field":"rssi","type":"quantitative","title":"RSSI (dBm)","scale":{"domain":[-114.5,-37.5],"nice":false,"zero":false},"axis":{"values":[-110,-100,-90,-80,-70,-60,-50,-40],"format":"d"}}}},
 {"data":{"name":"radio"},"mark":{"type":"line","strokeWidth":2.2,"color":"#8fd744","opacity":0.8,"clip":true},"encoding":{"x":{"field":"t","type":"quantitative"},"y":{"field":"snr","type":"quantitative","title":"SNR (dB)","scale":{"domain":[-10.59,13.31],"nice":false,"zero":false},"axis":{"orient":"right","values":[-10,-5,0,5,10],"format":"d","titleAngle":270,"titleBaseline":"top","titlePadding":10}}}}
],"resolve":{"scale":{"y":"independent"}}},
{"width":2579,"height":417,"layer":[
 {"data":{"name":"events"},"mark":{"type":"rule","strokeWidth":2.2,"opacity":0.6},"encoding":{"x":{"field":"t","type":"quantitative","title":"Time from detected liftoff (s)","scale":{"domain":[-15,61.5],"nice":false,"zero":false},"axis":{"values":[-10,0,10,20,30,40,50,60],"format":"d","labelPadding":10,"titlePadding":8}},"stroke":{"field":"e","type":"nominal","scale":{"domain":["liftoff","coast","drogue","reset / impact candidate","ready again"],"range":["#414487","#33638d","#26828e","#1fa088","#44bf70"]},"legend":null}}},
 {"data":{"name":"state"},"mark":{"type":"line","interpolate":"step-after","strokeWidth":3.5,"color":"#2a788e","clip":true},"encoding":{"x":{"field":"t","type":"quantitative","title":"Time from detected liftoff (s)"},"y":{"field":"v","type":"quantitative","title":"State","scale":{"domain":[-0.2,6.02],"nice":false,"zero":false},"axis":{"values":[0,1,2,3,4,5,6],"labelExpr":"['CALIBRATING','READY','POWERED','COASTING','DROGUE','MAIN','LANDED'][datum.value]"}}}}
]}
],
"config":{
 "font":"Liberation Sans",
 "background":"white",
 "view":{"stroke":"#cccccc","strokeWidth":2.5},
 "axis":{"grid":true,"gridColor":"#cccccc","gridWidth":2,"domain":false,"ticks":false,"labelFontSize":19.5,"labelColor":"#262626","titleFontSize":25,"titleFontWeight":"normal","titleColor":"#262626","labelPadding":8,"titlePadding":13,"labelFlush":false,"labelOverlap":false},
 "legend":{"labelFontSize":19.5,"labelColor":"#262626","symbolType":"stroke","symbolStrokeWidth":4,"symbolSize":1681,"padding":0,"labelOffset":16},
 "line":{"strokeJoin":"round"},
 "text":{"font":"Liberation Sans"}
}
}
